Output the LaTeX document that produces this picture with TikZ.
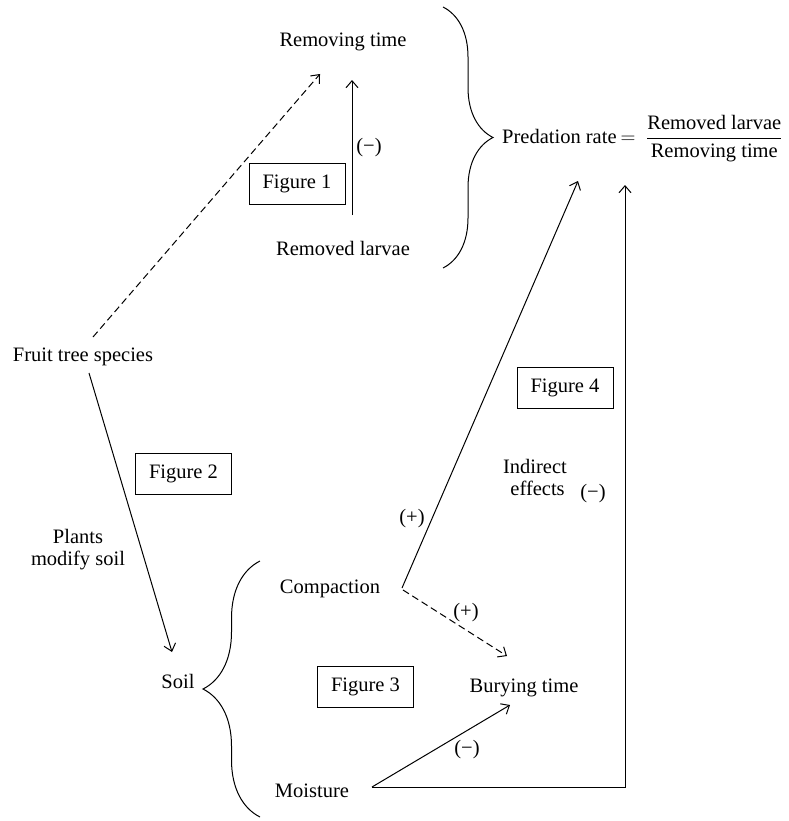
\documentclass[tikz,border=0pt]{standalone}
\usepackage{amsmath}
\usepackage{fontspec}
\setmainfont{Liberation Serif}
\usetikzlibrary{arrows.meta,decorations.pathreplacing}

\begin{document}
\begin{tikzpicture}[x=1bp,y=-1bp,
  every node/.style={font=\fontsize{20.5bp}{24bp}\selectfont, inner sep=0pt},
  lbl/.style={text height=14bp, text depth=4bp},
  figbox/.style={draw, line width=1bp, minimum width=96bp, minimum height=41bp},
  arr/.style={line width=1bp, -{Straight Barb[length=7bp,width=12bp]}},
  dasharr/.style={arr, dash pattern=on 7bp off 4bp},
  bracestyle/.style={line width=1bp, decorate, decoration={brace, amplitude=#1}}
]
  \useasboundingbox (0,0) rectangle (789,821);

  % top part: removal of larvae
  \node[lbl] (rt) at (343,42) {Removing time};
  \node[lbl] (rl) at (343,250) {Removed larvae};
  \node[figbox] (f1) at (297,184) {Figure 1};
  \node[lbl, anchor=center] (m1) at (369,147) {(−)};
  \node[anchor=west] (pred) at (502,139)
    {Predation rate\hspace{4bp}$=\hspace{5bp}\dfrac{\text{Removed larvae}}{\text{Removing time}}$};

  % left part: trees and soil
  \node[lbl] (ft) at (83,356) {Fruit tree species};
  \node[figbox] (f2) at (183.5,473.5) {Figure 2};
  \node[align=center] (pm) at (78,550) {Plants\\[-2bp]modify soil};
  \node[lbl] (soil) at (178,683) {Soil};

  % soil properties and burying
  \node[lbl] (comp) at (330,588) {Compaction};
  \node[figbox] (f3) at (365.5,686.5) {Figure 3};
  \node[lbl] (bt) at (524,687) {Burying time};
  \node[lbl] (moist) at (312,792) {Moisture};
  \node[figbox] (f4) at (565,387.5) {Figure 4};
  \node[align=center] (ind) at (535,477) {Indirect\\[-2bp]\ effects};

  % signs on the links
  \node[lbl] (p1) at (412,518) {(+)};
  \node[lbl] (p2) at (466,612) {(+)};
  \node[lbl] (m2) at (467,749) {(−)};
  \node[lbl] (m3) at (593,493) {(−)};

  % braces
  \draw[bracestyle=50bp] (443,7) -- (443,268);
  \draw[bracestyle=57bp] (260,817) -- (260,561);

  % connectors
  \draw[arr] ([shift={(9,-35)}]rl.center) -- ([shift={(9,38)}]rt.center);
  \draw[dasharr] ([shift={(10,-19)}]ft.center) -- ([shift={(-23,32)}]rt.center);
  \draw[arr] ([shift={(6,17)}]ft.center) -- ([shift={(-6,-31)}]soil.center);
  \draw[arr] ([shift={(72,0)}]comp.center) -- ([shift={(76,42)}]pred.west);
  \draw[dasharr] ([shift={(73,2)}]comp.center) -- ([shift={(-17,-31)}]bt.center);
  \draw[arr] ([shift={(60,-5)}]moist.center) -- ([shift={(-14,18)}]bt.center);
  \draw[arr] ([shift={(60,-5)}]moist.center) -| ([shift={(123,46)}]pred.west);
\end{tikzpicture}
\end{document}
